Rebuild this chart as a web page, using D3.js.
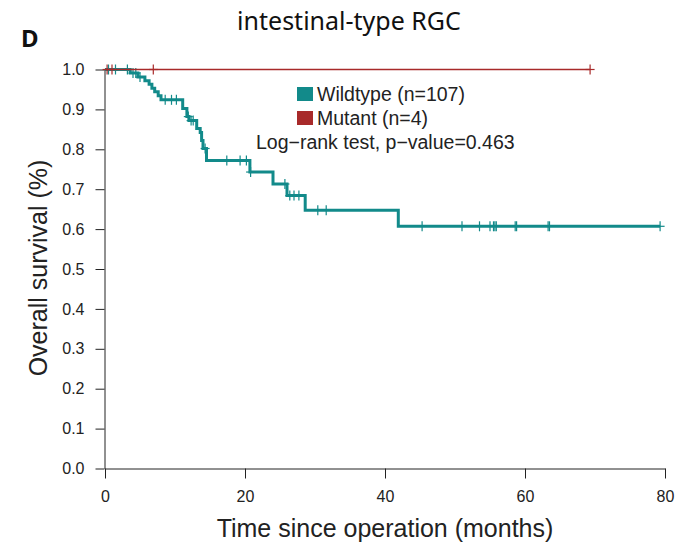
<!DOCTYPE html>
<html>
<head>
<meta charset="utf-8">
<script src="https://cdn.jsdelivr.net/npm/d3@7"></script>
<style>
  body { margin: 0; background: #fff; }
  svg text { font-family: "Liberation Sans", Arial, sans-serif; }
  .title, .panel { font-family: "Noto Sans", "Open Sans", sans-serif !important; }
</style>
</head>
<body>
<div id="chart"></div>
<script>
// Kaplan-Meier step data (months, survival)
const wildTimes = [0, 3.6, 4.7, 5.7, 6.3, 6.7, 7.1, 7.6, 8.0, 11.1, 11.7, 12.0, 13.1, 13.6, 13.8, 14.0, 14.5, 20.7, 24.0, 26.0, 28.6, 41.9];
const wildSurv  = [1, 0.991, 0.981, 0.972, 0.963, 0.953, 0.944, 0.934, 0.924, 0.902, 0.882, 0.872, 0.852, 0.842, 0.822, 0.802, 0.772, 0.743, 0.713, 0.684, 0.647, 0.607];
const wildEnd = 79.3;
const wildCensor = [0.5, 1.5, 3.2, 4.0, 4.4, 5.0, 8.6, 9.5, 10.2, 11.9, 12.3, 12.6, 14.3, 17.4, 19.3, 20.2, 20.8, 25.7, 26.4, 27.0, 27.7, 30.4, 31.6, 45.3, 51.0, 53.5, 55.0, 55.5, 55.7, 55.9, 58.6, 58.8, 63.3, 63.5, 79.3];

const mutTimes = [0];
const mutSurv = [1];
const mutEnd = 69.3;
const mutCensor = [0.3, 1.0, 6.9, 69.3];

const xTicks = [0, 20, 40, 60, 80];
const yTicks = [0, 0.1, 0.2, 0.3, 0.4, 0.5, 0.6, 0.7, 0.8, 0.9, 1.0];

const teal = '#128a8a';
const red = '#a82a2a';

const width = 677, height = 547;
const svg = d3.select('#chart').append('svg')
  .attr('width', width)
  .attr('height', height);

const x = d3.scaleLinear().domain([0, 80]).range([105, 665]);
const y = d3.scaleLinear().domain([0, 1]).range([468.5, 69.5]);

// axes
const yAxis = svg.append('g')
  .attr('transform', 'translate(104.5,0)')
  .call(d3.axisLeft(y).tickValues(yTicks).tickFormat(d3.format('.1f')).tickSize(9).tickSizeOuter(0).tickPadding(11));
const xAxis = svg.append('g')
  .attr('transform', 'translate(0,468.5)')
  .call(d3.axisBottom(x).tickValues(xTicks).tickSize(10).tickSizeOuter(0).tickPadding(12));
[yAxis, xAxis].forEach(g => {
  g.selectAll('text').attr('font-size', 16).attr('fill', '#222').style('font-family', '"Liberation Sans", Arial, sans-serif');
  g.selectAll('line, path').attr('stroke', '#222');
});

function survAt(times, surv, t) {
  let s = surv[0];
  for (let i = 0; i < times.length; i++) if (times[i] <= t) s = surv[i];
  return s;
}

function drawCurve(times, surv, end, censor, color, lw) {
  const pts = times.map((t, i) => [t, surv[i]]);
  pts.push([end, surv[surv.length - 1]]);
  const line = d3.line().x(d => x(d[0])).y(d => y(d[1])).curve(d3.curveStepAfter);
  svg.append('path')
    .attr('d', line(pts))
    .attr('fill', 'none')
    .attr('stroke', color)
    .attr('stroke-width', lw);
  const g = svg.append('g').attr('stroke', color).attr('stroke-width', 1.2);
  censor.forEach(t => {
    const cx = x(t), cy = y(survAt(times, surv, t));
    g.append('line').attr('x1', cx).attr('x2', cx).attr('y1', cy - 5).attr('y2', cy + 5);
    g.append('line').attr('x1', cx - 4.5).attr('x2', cx + 4.5).attr('y1', cy).attr('y2', cy);
  });
}

drawCurve(wildTimes, wildSurv, wildEnd, wildCensor, teal, 3);
drawCurve(mutTimes, mutSurv, mutEnd, mutCensor, red, 1.6);

// legend
const legend = [
  { label: 'Wildtype (n=107)', color: teal },
  { label: 'Mutant (n=4)', color: red }
];
legend.forEach((d, i) => {
  const ly = 87 + i * 24;
  svg.append('rect').attr('x', 297).attr('y', ly).attr('width', 16).attr('height', 14).attr('fill', d.color);
  svg.append('text').attr('x', 317).attr('y', ly + 14).attr('font-size', 19.5).attr('fill', '#222').text(d.label);
});
svg.append('text').attr('x', 256).attr('y', 149).attr('font-size', 19.5).attr('fill', '#222')
  .text('Log\u2212rank test, p\u2212value=0.463');

// titles
svg.append('text').attr('class', 'title').attr('x', 349).attr('y', 30)
  .attr('text-anchor', 'middle').attr('font-size', 25).attr('fill', '#111')
  .text('intestinal-type RGC');
svg.append('text').attr('class', 'panel').attr('x', 21).attr('y', 47)
  .attr('font-size', 24).attr('font-weight', 'bold').attr('fill', '#111').text('D');

svg.append('text').attr('x', 385).attr('y', 537)
  .attr('text-anchor', 'middle').attr('font-size', 25).attr('fill', '#222')
  .text('Time since operation (months)');
svg.append('text')
  .attr('transform', 'translate(47,268) rotate(-90)')
  .attr('text-anchor', 'middle').attr('font-size', 25).attr('fill', '#222')
  .text('Overall survival (%)');
</script>
</body>
</html>
